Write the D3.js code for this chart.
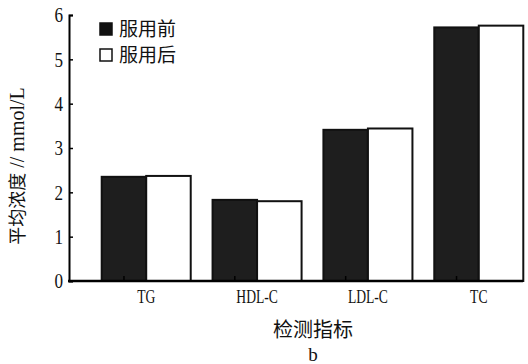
<!DOCTYPE html>
<html>
<head>
<meta charset="utf-8">
<script src="https://cdn.jsdelivr.net/npm/d3@7"></script>
<style>
  html, body { margin: 0; padding: 0; background: #fff; }
  svg { display: block; }
</style>
</head>
<body>
<svg id="chart" width="528" height="364"></svg>
<script>
// Lipid indicators measured before and after treatment
const categories = ["TG", "HDL-C", "LDL-C", "TC"];
const seriesNames = ["服用前", "服用后"];
const before = [2.35, 1.83, 3.41, 5.72];
const after = [2.37, 1.80, 3.44, 5.76];
const yTicks = [0, 1, 2, 3, 4, 5, 6];

const svg = d3.select("#chart");
const serif = "'Liberation Serif', 'Times New Roman', serif";
const cjk = "'Noto Sans CJK SC', sans-serif";

const x = d3.scaleBand().domain(categories).range([69, 556])
  .paddingInner(0.197).paddingOuter(0.295);
const inner = d3.scaleBand().domain(seriesNames).range([0, x.bandwidth()]);
const y = d3.scaleLinear().domain([0, 6]).range([281, 15]);

const rows = categories.map((c, i) => ({ c, vals: [before[i], after[i]] }));

// bars
const g = svg.append("g");
rows.forEach(r => {
  r.vals.forEach((v, j) => {
    g.append("rect")
      .attr("x", x(r.c) + inner(seriesNames[j]))
      .attr("y", y(v))
      .attr("width", inner.bandwidth())
      .attr("height", y(0) - y(v))
      .attr("fill", j === 0 ? "#1e1e1e" : "#fff")
      .attr("stroke", "#111")
      .attr("stroke-width", 2);
  });
});

// y axis
const yAxis = d3.axisRight(y).tickValues(yTicks).tickSize(4).tickFormat("");
const ya = svg.append("g").attr("transform", "translate(69,0)").call(yAxis);
ya.select(".domain").attr("stroke", "#000").attr("stroke-width", 2);
ya.selectAll(".tick line").attr("stroke", "#000").attr("stroke-width", 1.5);
svg.append("g").selectAll("text").data(yTicks).join("text")
  .attr("transform", d => `translate(63,${y(d)}) scale(0.9,1.1)`)
  .attr("dy", "0.35em")
  .attr("text-anchor", "end")
  .attr("font-family", serif).attr("font-size", 19).attr("fill", "#111")
  .text(d => d);

// x axis line and ticks
svg.append("line").attr("x1", 68).attr("x2", 523)
  .attr("y1", y(0)).attr("y2", y(0))
  .attr("stroke", "#000").attr("stroke-width", 2.5);
svg.append("g").selectAll("line").data(categories).join("line")
  .attr("x1", d => x(d) + inner.bandwidth() / 2)
  .attr("x2", d => x(d) + inner.bandwidth() / 2)
  .attr("y1", y(0)).attr("y2", y(0) - 5)
  .attr("stroke", "#000").attr("stroke-width", 1.5);
svg.append("g").selectAll("text").data(categories).join("text")
  .attr("transform", d => `translate(${x(d) + x.bandwidth() / 2},303) scale(0.85,1.15)`)
  .attr("text-anchor", "middle")
  .attr("font-family", serif).attr("font-size", 16).attr("fill", "#111")
  .text(d => d);

// axis titles
svg.append("text")
  .attr("transform", "translate(24,166) rotate(-90)")
  .attr("text-anchor", "middle")
  .attr("fill", "#111")
  .call(t => {
    t.append("tspan").attr("font-family", cjk).attr("font-size", 18).text("平均浓度");
    t.append("tspan").attr("font-family", serif).attr("font-size", 20).text(" // mmol/L");
  });
svg.append("text")
  .attr("x", 313).attr("y", 337)
  .attr("text-anchor", "middle")
  .attr("font-family", cjk).attr("font-size", 20).attr("fill", "#111")
  .text("检测指标");
svg.append("text")
  .attr("x", 313).attr("y", 361)
  .attr("text-anchor", "middle")
  .attr("font-family", serif).attr("font-size", 19).attr("fill", "#111")
  .text("b");

// legend
const legend = svg.append("g").selectAll("g").data(seriesNames).join("g")
  .attr("transform", (d, i) => `translate(100,${23 + i * 26})`);
legend.append("rect")
  .attr("width", 12).attr("height", 12)
  .attr("fill", (d, i) => i === 0 ? "#111" : "#fff")
  .attr("stroke", "#111").attr("stroke-width", 1.5);
legend.append("text")
  .attr("x", 19).attr("y", 6).attr("dy", "0.36em")
  .attr("font-family", cjk).attr("font-size", 19).attr("fill", "#111")
  .text(d => d);
</script>
</body>
</html>
